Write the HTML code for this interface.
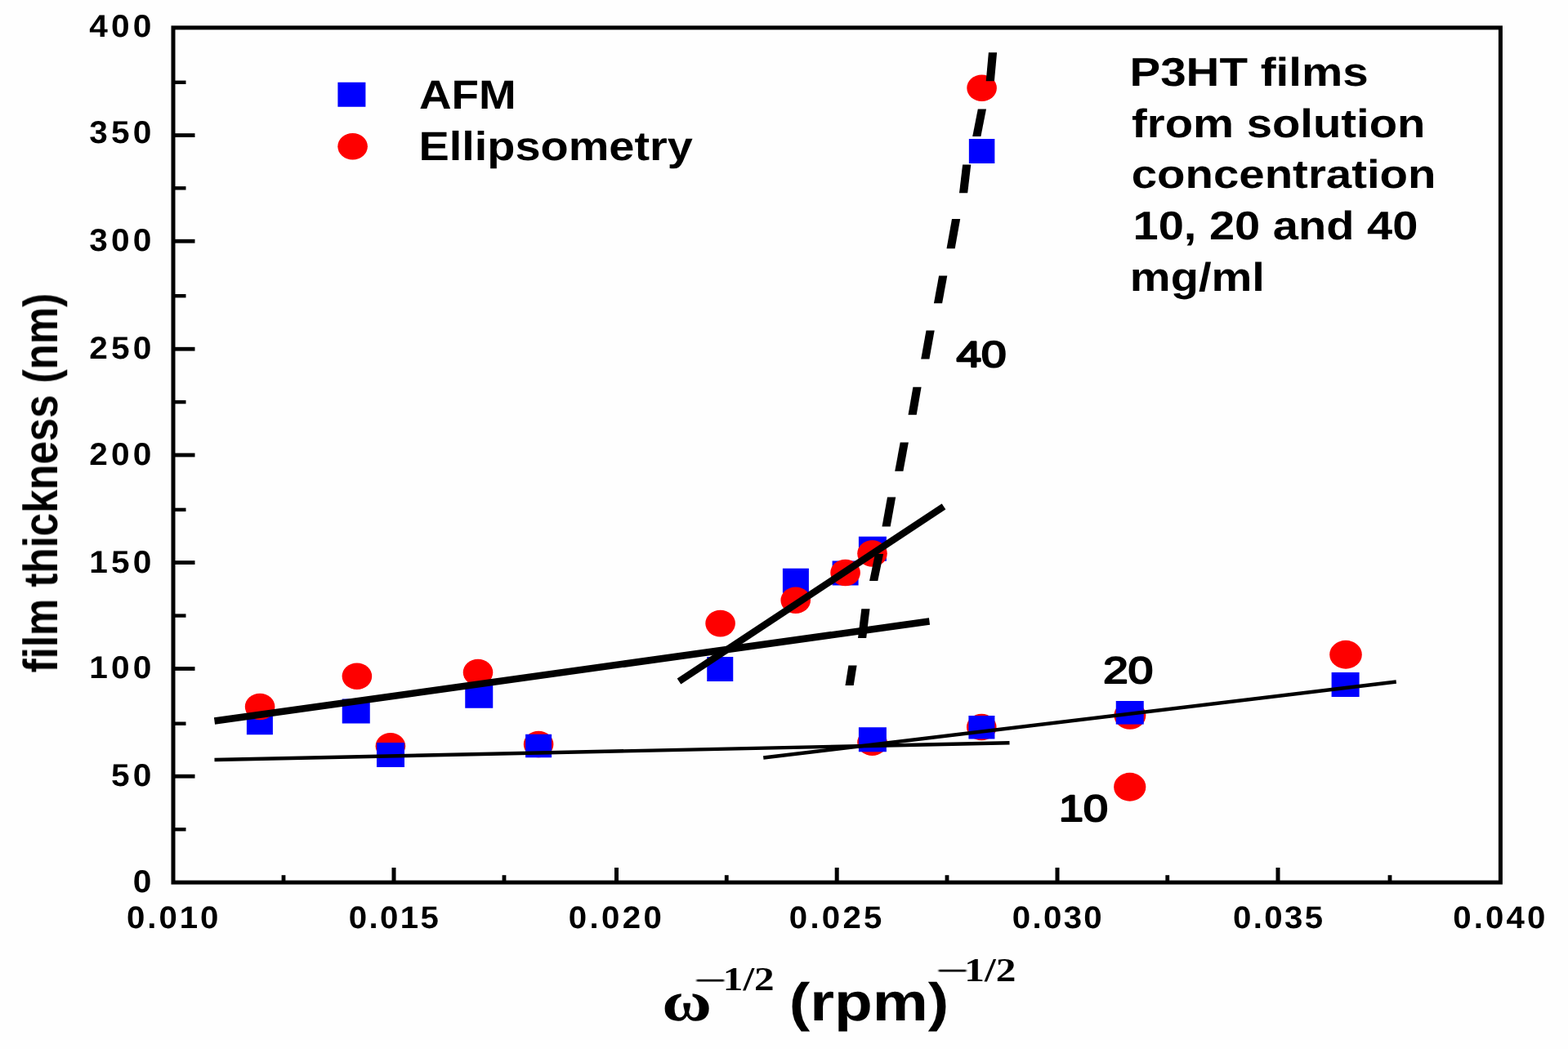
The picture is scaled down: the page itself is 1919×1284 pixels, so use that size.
<!DOCTYPE html>
<html lang="en"><head><meta charset="utf-8"><title>P3HT film thickness vs spin speed</title>
<style>
html,body{margin:0;padding:0;background:#fefefe;}
body{width:1919px;height:1284px;overflow:hidden;}
svg{display:block;}
text{text-rendering:geometricPrecision;filter:blur(0.55px);}
</style></head>
<body>
<svg width="1919" height="1284" viewBox="0 0 1919 1284">
<rect width="1919" height="1284" fill="#fefefe"/>
<ellipse cx="477.90" cy="913.25" rx="18.3" ry="16.3" fill="#fe0000"/>
<rect x="461.00" y="909.00" width="34" height="30" fill="#0000fe"/>
<ellipse cx="659.10" cy="911.00" rx="18.3" ry="16.3" fill="#fe0000"/>
<rect x="643.10" y="898.75" width="32" height="28.5" fill="#0000fe"/>
<ellipse cx="1067.50" cy="908.75" rx="18.3" ry="16.3" fill="#fe0000"/>
<rect x="1050.90" y="890.25" width="34" height="30" fill="#0000fe"/>
<ellipse cx="1201.25" cy="890.00" rx="18.3" ry="16.3" fill="#fe0000"/>
<rect x="1185.40" y="876.00" width="32" height="28.5" fill="#0000fe"/>
<ellipse cx="1382.90" cy="875.60" rx="19.5" ry="17.2" fill="#fe0000"/>
<rect x="1365.75" y="858.00" width="34" height="28.6" fill="#0000fe"/>
<ellipse cx="1382.75" cy="963.25" rx="19.6" ry="17.4" fill="#fe0000"/>
<rect x="1629.60" y="823.00" width="34" height="30" fill="#0000fe"/>
<ellipse cx="1647.00" cy="801.25" rx="19.8" ry="17.4" fill="#fe0000"/>
<rect x="301.90" y="869.25" width="32" height="30" fill="#0000fe"/>
<ellipse cx="318.10" cy="865.00" rx="18.3" ry="16.3" fill="#fe0000"/>
<rect x="418.75" y="855.50" width="34" height="30" fill="#0000fe"/>
<ellipse cx="436.90" cy="827.75" rx="18.3" ry="16.3" fill="#fe0000"/>
<rect x="569.25" y="836.75" width="34" height="30" fill="#0000fe"/>
<ellipse cx="585.00" cy="823.00" rx="18.3" ry="16.3" fill="#fe0000"/>
<rect x="865.25" y="804.00" width="32" height="30" fill="#0000fe"/>
<ellipse cx="881.60" cy="763.10" rx="18.3" ry="16.3" fill="#fe0000"/>
<rect x="957.90" y="695.75" width="32" height="30" fill="#0000fe"/>
<ellipse cx="973.75" cy="734.75" rx="18.3" ry="16.3" fill="#fe0000"/>
<rect x="1018.60" y="686.50" width="32" height="30" fill="#0000fe"/>
<ellipse cx="1034.60" cy="701.00" rx="18.3" ry="16.3" fill="#fe0000"/>
<rect x="1050.90" y="656.75" width="34" height="30" fill="#0000fe"/>
<ellipse cx="1067.50" cy="677.50" rx="18.3" ry="16.3" fill="#fe0000"/>
<ellipse cx="1201.60" cy="107.80" rx="18.3" ry="16.3" fill="#fe0000"/>
<rect x="1185.85" y="170.00" width="31.5" height="30" fill="#0000fe"/>
<line x1="262.50" y1="930.00" x2="1235.50" y2="909.25" stroke="#000" stroke-width="4.4" stroke-linecap="butt"/>
<line x1="934.25" y1="927.50" x2="1708.75" y2="834.50" stroke="#000" stroke-width="4.4" stroke-linecap="butt"/>
<line x1="262.50" y1="882.50" x2="1137.50" y2="760.50" stroke="#000" stroke-width="8.5" stroke-linecap="butt"/>
<line x1="831.00" y1="834.00" x2="1155.00" y2="620.00" stroke="#000" stroke-width="8.5" stroke-linecap="butt"/>
<polygon points="1209.9,64.3 1220.1,64.3 1216.9,99.2 1206.7,99.2" fill="#000"/>
<polygon points="1196.8,133.5 1207.0,133.5 1200.4,167.1 1190.2,167.1" fill="#000"/>
<polygon points="1178.1,201.4 1188.3,201.4 1184.2,236.3 1174.0,236.3" fill="#000"/>
<polygon points="1165.0,268.0 1175.2,268.0 1168.7,304.2 1158.5,304.2" fill="#000"/>
<polygon points="1149.1,337.5 1159.3,337.5 1153.1,371.2 1142.9,371.2" fill="#000"/>
<polygon points="1133.5,404.5 1143.7,404.5 1137.4,439.5 1127.2,439.5" fill="#000"/>
<polygon points="1117.4,473.7 1127.6,473.7 1121.7,507.7 1111.5,507.7" fill="#000"/>
<polygon points="1101.7,541.4 1111.9,541.4 1105.4,576.7 1095.2,576.7" fill="#000"/>
<polygon points="1086.0,608.5 1096.2,608.5 1089.7,644.4 1079.5,644.4" fill="#000"/>
<polygon points="1070.9,678.0 1081.1,678.0 1074.3,710.9 1064.1,710.9" fill="#000"/>
<polygon points="1054.3,745.2 1064.5,745.2 1060.2,780.9 1050.0,780.9" fill="#000"/>
<polygon points="1038.4,814.5 1048.6,814.5 1044.7,839.1 1034.5,839.1" fill="#000"/>
<rect x="212.0" y="33.9" width="1624.40" height="1046.20" fill="none" stroke="#000" stroke-width="5"/>
<line x1="212.00" y1="100.80" x2="227.50" y2="100.80" stroke="#000" stroke-width="4.4" stroke-linecap="butt"/>
<line x1="212.00" y1="165.60" x2="238.50" y2="165.60" stroke="#000" stroke-width="4.8" stroke-linecap="butt"/>
<line x1="212.00" y1="230.30" x2="227.50" y2="230.30" stroke="#000" stroke-width="4.4" stroke-linecap="butt"/>
<line x1="212.00" y1="295.20" x2="238.50" y2="295.20" stroke="#000" stroke-width="4.8" stroke-linecap="butt"/>
<line x1="212.00" y1="362.20" x2="227.50" y2="362.20" stroke="#000" stroke-width="4.4" stroke-linecap="butt"/>
<line x1="212.00" y1="427.20" x2="238.50" y2="427.20" stroke="#000" stroke-width="4.8" stroke-linecap="butt"/>
<line x1="212.00" y1="492.10" x2="227.50" y2="492.10" stroke="#000" stroke-width="4.4" stroke-linecap="butt"/>
<line x1="212.00" y1="557.00" x2="238.50" y2="557.00" stroke="#000" stroke-width="4.8" stroke-linecap="butt"/>
<line x1="212.00" y1="623.90" x2="227.50" y2="623.90" stroke="#000" stroke-width="4.4" stroke-linecap="butt"/>
<line x1="212.00" y1="688.60" x2="238.50" y2="688.60" stroke="#000" stroke-width="4.8" stroke-linecap="butt"/>
<line x1="212.00" y1="753.60" x2="227.50" y2="753.60" stroke="#000" stroke-width="4.4" stroke-linecap="butt"/>
<line x1="212.00" y1="818.50" x2="238.50" y2="818.50" stroke="#000" stroke-width="4.8" stroke-linecap="butt"/>
<line x1="212.00" y1="885.70" x2="227.50" y2="885.70" stroke="#000" stroke-width="4.4" stroke-linecap="butt"/>
<line x1="212.00" y1="950.20" x2="238.50" y2="950.20" stroke="#000" stroke-width="4.8" stroke-linecap="butt"/>
<line x1="212.00" y1="1015.20" x2="227.50" y2="1015.20" stroke="#000" stroke-width="4.4" stroke-linecap="butt"/>
<line x1="347.00" y1="1080.10" x2="347.00" y2="1071.20" stroke="#000" stroke-width="4.8" stroke-linecap="butt"/>
<line x1="482.00" y1="1080.10" x2="482.00" y2="1062.00" stroke="#000" stroke-width="5" stroke-linecap="butt"/>
<line x1="617.00" y1="1080.10" x2="617.00" y2="1071.20" stroke="#000" stroke-width="4.8" stroke-linecap="butt"/>
<line x1="754.50" y1="1080.10" x2="754.50" y2="1062.00" stroke="#000" stroke-width="5" stroke-linecap="butt"/>
<line x1="889.25" y1="1080.10" x2="889.25" y2="1071.20" stroke="#000" stroke-width="4.8" stroke-linecap="butt"/>
<line x1="1024.20" y1="1080.10" x2="1024.20" y2="1062.00" stroke="#000" stroke-width="5" stroke-linecap="butt"/>
<line x1="1159.00" y1="1080.10" x2="1159.00" y2="1071.20" stroke="#000" stroke-width="4.8" stroke-linecap="butt"/>
<line x1="1294.00" y1="1080.10" x2="1294.00" y2="1062.00" stroke="#000" stroke-width="5" stroke-linecap="butt"/>
<line x1="1428.75" y1="1080.10" x2="1428.75" y2="1071.20" stroke="#000" stroke-width="4.8" stroke-linecap="butt"/>
<line x1="1564.00" y1="1080.10" x2="1564.00" y2="1062.00" stroke="#000" stroke-width="5" stroke-linecap="butt"/>
<line x1="1701.00" y1="1080.10" x2="1701.00" y2="1071.20" stroke="#000" stroke-width="4.8" stroke-linecap="butt"/>
<text transform="translate(109.29,44.50) scale(1.0500,1)" font-family='"Liberation Sans", sans-serif' font-weight="bold" font-size="38.71" fill="#000" letter-spacing="3.933">400</text>
<text transform="translate(109.29,174.70) scale(1.0500,1)" font-family='"Liberation Sans", sans-serif' font-weight="bold" font-size="38.71" fill="#000" letter-spacing="3.933">350</text>
<text transform="translate(109.29,306.90) scale(1.0500,1)" font-family='"Liberation Sans", sans-serif' font-weight="bold" font-size="38.71" fill="#000" letter-spacing="3.933">300</text>
<text transform="translate(109.29,438.90) scale(1.0500,1)" font-family='"Liberation Sans", sans-serif' font-weight="bold" font-size="38.71" fill="#000" letter-spacing="3.933">250</text>
<text transform="translate(109.29,568.50) scale(1.0500,1)" font-family='"Liberation Sans", sans-serif' font-weight="bold" font-size="38.71" fill="#000" letter-spacing="3.933">200</text>
<text transform="translate(109.29,700.70) scale(1.0500,1)" font-family='"Liberation Sans", sans-serif' font-weight="bold" font-size="38.71" fill="#000" letter-spacing="3.933">150</text>
<text transform="translate(109.29,830.20) scale(1.0500,1)" font-family='"Liberation Sans", sans-serif' font-weight="bold" font-size="38.71" fill="#000" letter-spacing="3.933">100</text>
<text transform="translate(136.08,961.70) scale(1.0500,1)" font-family='"Liberation Sans", sans-serif' font-weight="bold" font-size="38.71" fill="#000" letter-spacing="3.933">50</text>
<text transform="translate(162.77,1092.00) scale(1.0500,1)" font-family='"Liberation Sans", sans-serif' font-weight="bold" font-size="38.71" fill="#000" letter-spacing="3.933">0</text>
<text transform="translate(155.04,1135.50) scale(1.0500,1)" font-family='"Liberation Sans", sans-serif' font-weight="bold" font-size="38.28" fill="#000" letter-spacing="2.817">0.010</text>
<text transform="translate(426.79,1135.50) scale(1.0500,1)" font-family='"Liberation Sans", sans-serif' font-weight="bold" font-size="38.28" fill="#000" letter-spacing="2.281">0.015</text>
<text transform="translate(695.79,1135.50) scale(1.0500,1)" font-family='"Liberation Sans", sans-serif' font-weight="bold" font-size="38.28" fill="#000" letter-spacing="3.234">0.020</text>
<text transform="translate(965.79,1135.50) scale(1.0500,1)" font-family='"Liberation Sans", sans-serif' font-weight="bold" font-size="38.28" fill="#000" letter-spacing="3.114">0.025</text>
<text transform="translate(1238.79,1135.50) scale(1.0500,1)" font-family='"Liberation Sans", sans-serif' font-weight="bold" font-size="38.28" fill="#000" letter-spacing="2.222">0.030</text>
<text transform="translate(1509.04,1135.50) scale(1.0500,1)" font-family='"Liberation Sans", sans-serif' font-weight="bold" font-size="38.28" fill="#000" letter-spacing="2.281">0.035</text>
<text transform="translate(1778.29,1135.50) scale(1.0500,1)" font-family='"Liberation Sans", sans-serif' font-weight="bold" font-size="38.28" fill="#000" letter-spacing="2.996">0.040</text>
<rect x="413.40" y="100.75" width="34" height="30" fill="#0000fe"/>
<ellipse cx="431.60" cy="179.25" rx="18.3" ry="16.3" fill="#fe0000"/>
<text transform="translate(512.88,133.00) scale(1.1017,1)" font-family='"Liberation Sans", sans-serif' font-weight="bold" font-size="49.82" fill="#000">AFM</text>
<text transform="translate(512.48,195.50) scale(1.1218,1)" font-family='"Liberation Sans", sans-serif' font-weight="bold" font-size="49.82" fill="#000">Ellipsometry</text>
<text transform="translate(1382.48,104.90) scale(1.1531,1)" font-family='"Liberation Sans", sans-serif' font-weight="bold" font-size="49.02" fill="#000">P3HT films</text>
<text transform="translate(1385.02,167.90) scale(1.1477,1)" font-family='"Liberation Sans", sans-serif' font-weight="bold" font-size="49.02" fill="#000">from solution</text>
<text transform="translate(1384.75,230.10) scale(1.1501,1)" font-family='"Liberation Sans", sans-serif' font-weight="bold" font-size="49.02" fill="#000">concentration</text>
<text transform="translate(1386.50,292.80) scale(1.1429,1)" font-family='"Liberation Sans", sans-serif' font-weight="bold" font-size="49.02" fill="#000">10, 20 and 40</text>
<text transform="translate(1382.86,355.60) scale(1.1434,1)" font-family='"Liberation Sans", sans-serif' font-weight="bold" font-size="49.02" fill="#000">mg/ml</text>
<text transform="translate(1170.47,448.90) scale(1.2264,1)" font-family='"Liberation Sans", sans-serif' font-weight="normal" font-size="44.73" fill="#000" stroke="#000" stroke-width="2.2" stroke-linejoin="round">40</text>
<text transform="translate(1350.37,835.70) scale(1.2046,1)" font-family='"Liberation Sans", sans-serif' font-weight="normal" font-size="45.30" fill="#000" stroke="#000" stroke-width="2.2" stroke-linejoin="round">20</text>
<text transform="translate(1296.07,1004.50) scale(1.1861,1)" font-family='"Liberation Sans", sans-serif' font-weight="normal" font-size="45.30" fill="#000" stroke="#000" stroke-width="2.2" stroke-linejoin="round">10</text>
<text transform="translate(810.18,1249.00) scale(1.1942,1)" font-family='"Liberation Serif", serif' font-weight="bold" font-size="69.57" fill="#000">ω</text>
<text transform="translate(848.90,1217.71) scale(1.8011,1.3500)" font-family='"Liberation Serif", serif' font-weight="normal" font-size="40.0" fill="#000">−</text>
<text transform="translate(884.82,1212.00) scale(1.2011,1)" font-family='"Liberation Serif", serif' font-weight="bold" font-size="40.91" fill="#000">1/2</text>
<text transform="translate(965.67,1249.00) scale(1.1709,1)" font-family='"Liberation Sans", sans-serif' font-weight="bold" font-size="65.40" fill="#000">(rpm)</text>
<text transform="translate(1145.14,1205.71) scale(1.8038,1.3500)" font-family='"Liberation Serif", serif' font-weight="normal" font-size="40.0" fill="#000">−</text>
<text transform="translate(1180.30,1200.75) scale(1.2063,1)" font-family='"Liberation Serif", serif' font-weight="bold" font-size="40.91" fill="#000">1/2</text>
<text transform="translate(70.00,823.39) rotate(-90) scale(1.0196,1.1807)" font-family='"Liberation Sans", sans-serif' font-weight="bold" font-size="50.0" fill="#000">film thickness (nm)</text>
</svg>
</body></html>
